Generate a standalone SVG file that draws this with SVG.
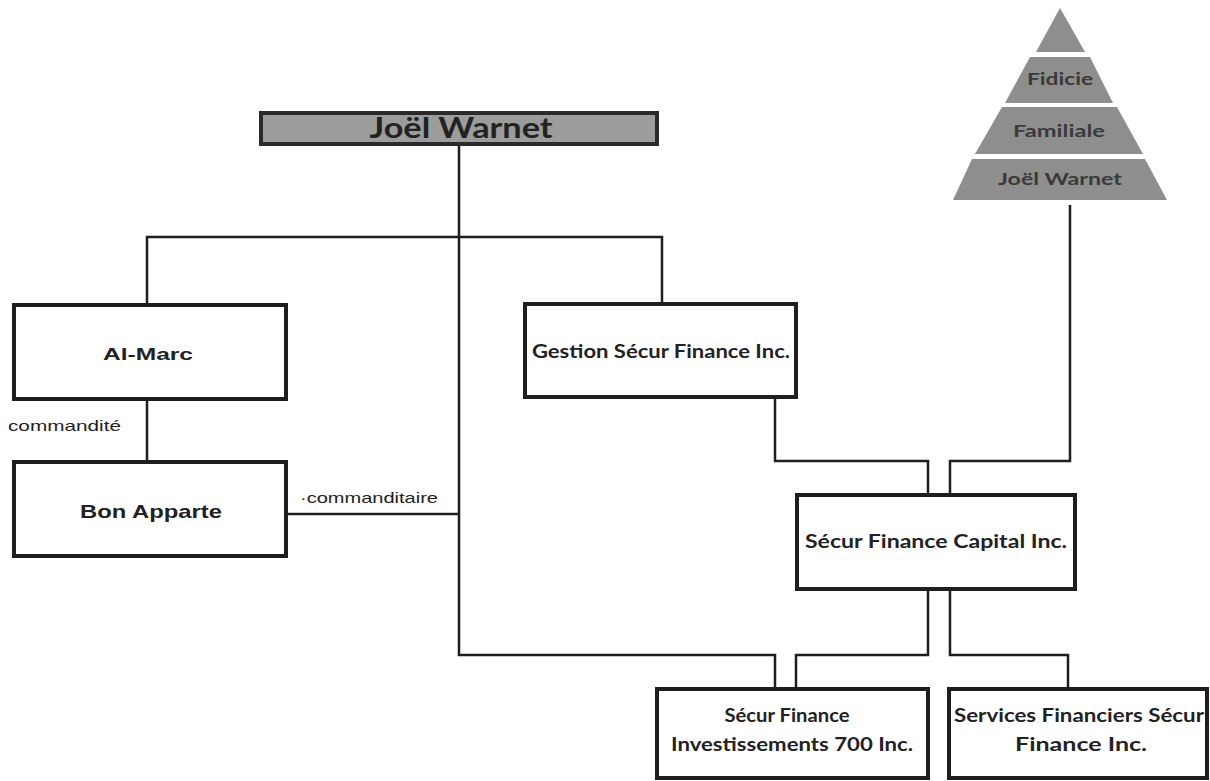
<svg xmlns="http://www.w3.org/2000/svg" width="1210" height="781" viewBox="0 0 1210 781">
<style>
.box{fill:#fff;stroke:#1e1e1e;stroke-width:4}
.top{fill:#9c9c9c;stroke:#2a2a2a;stroke-width:4}
.pyr{fill:#8e8e8e;stroke:none}
.c{fill:none;stroke:#1e1e1e;stroke-width:2.5}
.cal{font-family:Lato,"Open Sans",sans-serif;font-weight:bold;fill:#222;text-anchor:middle}
.ari{font-family:"Liberation Sans",Arial,sans-serif;fill:#222}
.pt{font-family:Lato,"Open Sans",sans-serif;font-weight:bold;fill:#3a3a3a;text-anchor:middle;font-size:17px}
</style>
<rect width="1210" height="781" fill="#fff"/>
<g id="connectors">
<polyline class="c" points="459,145 459,655 775,655 775,687"/>
<polyline class="c" points="147,303 147,237 662,237 662,302"/>
<line class="c" x1="147" y1="400" x2="147" y2="460"/>
<line class="c" x1="287" y1="514" x2="459" y2="514"/>
<polyline class="c" points="775,398 775,461 928,461 928,493"/>
<polyline class="c" points="1070,205 1070,461 950,461 950,493"/>
<polyline class="c" points="928,590 928,655 796,655 796,687"/>
<polyline class="c" points="950,590 950,655 1068,655 1068,687"/>
<text class="ari" x="8" y="431" font-size="15" textLength="113" lengthAdjust="spacingAndGlyphs">commandité</text>
<text class="ari" x="300" y="503" font-size="15" textLength="138" lengthAdjust="spacingAndGlyphs">·commanditaire</text>
</g>
<g id="joel">
<rect class="top" x="261" y="113" width="396" height="31"/>
<text class="cal" x="461" y="138" font-size="29" textLength="183" lengthAdjust="spacingAndGlyphs">Joël Warnet</text>
</g>
<g id="fiducie">
<polygon class="pyr" points="1060,8 1085,52 1036,52"/>
<polygon class="pyr" points="1030,57 1090,57 1113,103 1005,103"/>
<polygon class="pyr" points="1002,107 1117,107 1143,154 975,154"/>
<polygon class="pyr" points="972,159 1145,159 1167,200 953,200"/>
<text class="pt" x="1060" y="85" textLength="66" lengthAdjust="spacingAndGlyphs">Fidicie</text>
<text class="pt" x="1059" y="137" textLength="92" lengthAdjust="spacingAndGlyphs">Familiale</text>
<text class="pt" x="1060" y="185" textLength="124" lengthAdjust="spacingAndGlyphs">Joël Warnet</text>
</g>
<g id="almarc">
<rect class="box" x="14" y="305" width="272" height="94"/>
<text class="ari" x="148" y="360" font-size="17" font-weight="bold" text-anchor="middle" textLength="90" lengthAdjust="spacingAndGlyphs">Al-Marc</text>
</g>
<g id="bonapparte">
<rect class="box" x="14" y="462" width="272" height="94"/>
<text class="ari" x="151" y="518" font-size="19" font-weight="bold" text-anchor="middle" textLength="142" lengthAdjust="spacingAndGlyphs">Bon Apparte</text>
</g>
<g id="gestion">
<rect class="box" x="525" y="304" width="271" height="93"/>
<text class="cal" x="661" y="358" font-size="19" textLength="258" lengthAdjust="spacingAndGlyphs">Gestion Sécur Finance Inc.</text>
</g>
<g id="capital">
<rect class="box" x="797" y="495" width="278" height="94"/>
<text class="cal" x="936" y="548" font-size="19" textLength="262" lengthAdjust="spacingAndGlyphs">Sécur Finance Capital Inc.</text>
</g>
<g id="investissements">
<rect class="box" x="657" y="689" width="271" height="89"/>
<text class="cal" x="787" y="722" font-size="18" textLength="125" lengthAdjust="spacingAndGlyphs">Sécur Finance</text>
<text class="cal" x="792" y="751" font-size="18" textLength="242" lengthAdjust="spacingAndGlyphs">Investissements 700 Inc.</text>
</g>
<g id="services">
<rect class="box" x="949" y="689" width="258" height="89"/>
<text class="cal" x="1079" y="722" font-size="18" textLength="250" lengthAdjust="spacingAndGlyphs">Services Financiers Sécur</text>
<text class="cal" x="1081" y="751" font-size="18" textLength="132" lengthAdjust="spacingAndGlyphs">Finance Inc.</text>
</g>
</svg>
